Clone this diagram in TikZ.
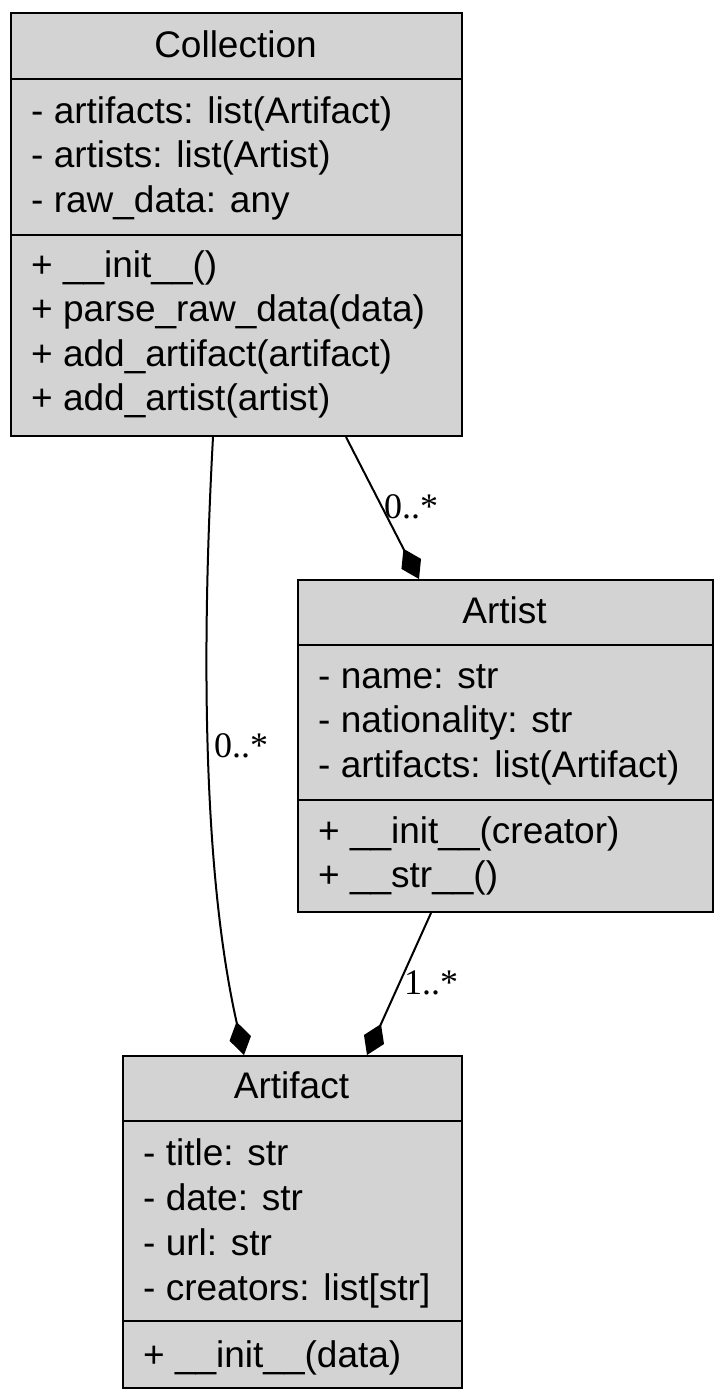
\documentclass[tikz,border=0pt]{standalone}
\usepackage{fontspec}
\setmainfont{Liberation Sans}
\newfontfamily\labelfont{Liberation Serif}
\usetikzlibrary{arrows.meta}
\definecolor{boxgray}{RGB}{211,211,211}
\begin{document}
\begin{tikzpicture}[x=1pt,y=-1pt,
  classbox/.style={draw=black, fill=boxgray, line width=2pt, rectangle, inner sep=0pt, anchor=north west},
  divider/.style={line width=2pt},
  member/.style={anchor=base west, inner sep=0pt, font=\fontsize{37}{44.5}\selectfont},
  classtitle/.style={anchor=base, inner sep=0pt, font=\fontsize{37}{44.5}\selectfont},
  mult/.style={anchor=base west, inner sep=0pt, font=\labelfont\fontsize{36}{40}\selectfont},
  assoc/.style={line width=2pt, -{Diamond[length=34pt,width=22pt]}}
]
\useasboundingbox (0,0) rectangle (722,1400);

% Collection
\node[classbox, minimum width=451pt, minimum height=423pt] (coll) at (10,12) {};
\draw[divider] (10,79) -- (461,79);
\draw[divider] (10,235) -- (461,235);
\node[classtitle] (collT) at (235.5,57) {Collection};
\node[member] (collA1) at (31,123) {- artifacts: list(Artifact)};
\node[member] (collA2) at (31,167.5) {- artists: list(Artist)};
\node[member] (collA3) at (31,212) {- raw\_data: any};
\node[member] (collM1) at (31,277) {+ \_\_init\_\_()};
\node[member] (collM2) at (31,321.5) {+ parse\_raw\_data(data)};
\node[member] (collM3) at (31,366) {+ add\_artifact(artifact)};
\node[member] (collM4) at (31,410.5) {+ add\_artist(artist)};

% Artist
\node[classbox, minimum width=415pt, minimum height=332pt] (artist) at (297,579) {};
\draw[divider] (297,645) -- (712,645);
\draw[divider] (297,800) -- (712,800);
\node[classtitle] (artistT) at (504.5,623) {Artist};
\node[member] (artistA1) at (318,688) {- name: str};
\node[member] (artistA2) at (318,732.5) {- nationality: str};
\node[member] (artistA3) at (318,777) {- artifacts: list(Artifact)};
\node[member] (artistM1) at (318,843) {+ \_\_init\_\_(creator)};
\node[member] (artistM2) at (318,887.5) {+ \_\_str\_\_()};

% Artifact
\node[classbox, minimum width=339pt, minimum height=332pt] (afct) at (122,1055) {};
\draw[divider] (122,1121) -- (461,1121);
\draw[divider] (122,1321) -- (461,1321);
\node[classtitle] (afctT) at (291.5,1098) {Artifact};
\node[member] (afctA1) at (143,1165) {- title: str};
\node[member] (afctA2) at (143,1210) {- date: str};
\node[member] (afctA3) at (143,1255) {- url: str};
\node[member] (afctA4) at (143,1300) {- creators: list[str]};
\node[member] (afctM1) at (143,1367) {+ \_\_init\_\_(data)};

% Associations
\draw[assoc] ([xshift=109.5pt]coll.south) -- ([xshift=-86.5pt]artist.north);
\draw[assoc] ([xshift=-23.5pt]coll.south) .. controls (203,620) and (200,860) .. ([xshift=-48.5pt]afct.north);
\draw[assoc] ([xshift=-74.5pt]artist.south) -- ([xshift=74.5pt]afct.north);

% Multiplicities
\node[mult] (m1) at (384,518) {0..*};
\node[mult] (m2) at (214,757) {0..*};
\node[mult] (m3) at (404,994) {1..*};
\end{tikzpicture}
\end{document}
